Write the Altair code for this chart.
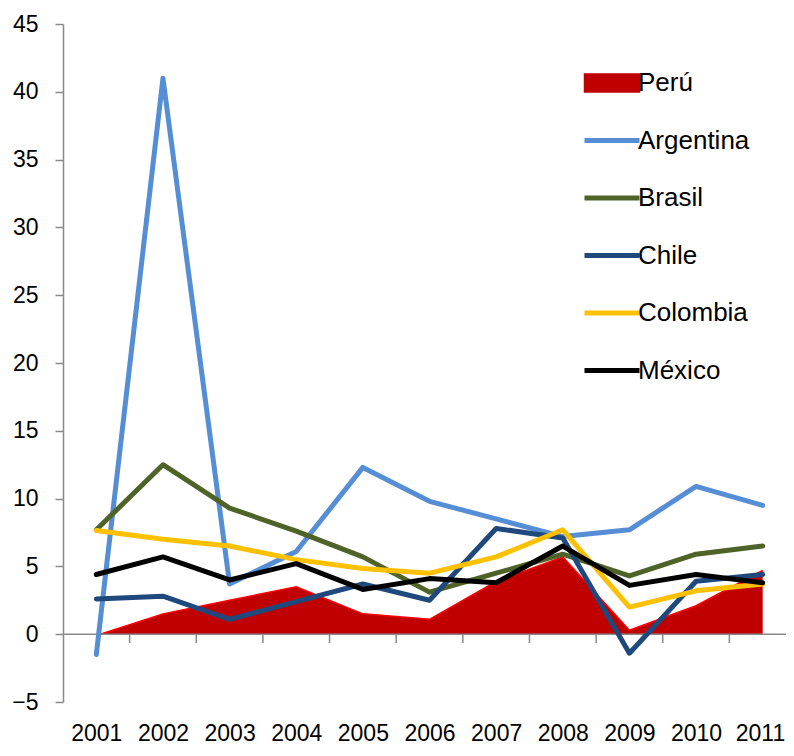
import altair as alt
import pandas as pd

years = [2001, 2002, 2003, 2004, 2005, 2006, 2007, 2008, 2009, 2010, 2011]
peru = [-0.1, 1.5, 2.5, 3.5, 1.5, 1.1, 3.9, 5.7, 0.3, 2.1, 4.7]
argentina = [-1.5, 41.0, 3.7, 6.1, 12.3, 9.8, 8.5, 7.2, 7.7, 10.9, 9.5]
brasil = [7.7, 12.5, 9.3, 7.6, 5.7, 3.1, 4.5, 5.9, 4.3, 5.9, 6.5]
chile = [2.6, 2.8, 1.1, 2.4, 3.7, 2.5, 7.8, 7.1, -1.4, 3.9, 4.4]
colombia = [7.65, 7.0, 6.5, 5.5, 4.85, 4.5, 5.7, 7.7, 2.0, 3.2, 3.7]
mexico = [4.4, 5.7, 4.0, 5.2, 3.3, 4.1, 3.8, 6.5, 3.6, 4.4, 3.8]

countries = ["Perú", "Argentina", "Brasil", "Chile", "Colombia", "México"]
colors = ["#C00000", "#558ED5", "#4F6228", "#1F497D", "#FFC000", "#000000"]
series = [peru, argentina, brasil, chile, colombia, mexico]
y_ticks = [-5, 0, 5, 10, 15, 20, 25, 30, 35, 40, 45]

rows = []
for name, vals in zip(countries, series):
    for yr, v in zip(years, vals):
        rows.append({"year": yr, "pais": name, "valor": v})
df = pd.DataFrame(rows)

# category boundaries for x tick marks
bounds = pd.DataFrame({"b": [y + 0.5 for y in years[:-1]]})

FONT = "Liberation Sans"
AXIS_GRAY = "#898989"

# the plot area runs past the last category (cut off at the page edge in the original)
xscale = alt.Scale(domain=[years[0] - 0.5, years[-1] + 0.35], nice=False, zero=False)
yscale = alt.Scale(domain=[y_ticks[0], y_ticks[-1]], nice=False)

color_scale = alt.Scale(domain=countries, range=colors)

legend = alt.Legend(
    title=None,
    orient="none",
    legendX=536,
    legendY=46,
    padding=0,
    symbolType=alt.ExprRef(expr="datum.value === 'Perú' ? 'M-1,-0.33H1V0.33H-1Z' : 'stroke'"),
    symbolFillColor=alt.ExprRef(expr="datum.value === 'Perú' ? '#C00000' : 'transparent'"),
    symbolStrokeColor=alt.ExprRef(expr="datum.value === 'Perú' ? '#FF0000' : scale('color', datum.value)"),
    symbolStrokeWidth=alt.ExprRef(expr="datum.value === 'Perú' ? 1.5 : 5"),
    symbolOpacity=1,
    symbolSize=3025,
    rowPadding=31.5,
    labelOffset=13,
    labelFont=FONT,
    labelFontSize=26,
    labelColor="#000000",
    labelLimit=300,
)

x_axis = alt.Axis(
    values=years,
    format="d",
    title=None,
    domain=False,
    ticks=False,
    tickSize=0,
    grid=False,
    labelFont=FONT,
    labelFontSize=23,
    labelColor="#000000",
    labelPadding=20,
    labelFlush=26,
    labelFlushOffset=22,
)
y_axis = alt.Axis(
    values=y_ticks,
    title=None,
    grid=False,
    domainColor=AXIS_GRAY,
    domainWidth=1.5,
    tickColor=AXIS_GRAY,
    tickWidth=1.5,
    tickSize=8,
    labelFont=FONT,
    labelFontSize=23,
    labelColor="#000000",
    labelPadding=17,
)

base = alt.Chart(df)

area = base.transform_filter(alt.datum.pais == "Perú").mark_area(opacity=1).encode(
    x=alt.X("year:Q", scale=xscale, axis=x_axis),
    y=alt.Y("valor:Q", scale=yscale, axis=y_axis),
    color=alt.Color("pais:N", scale=color_scale, legend=legend, sort=countries),
)

area_edge = base.transform_filter(alt.datum.pais == "Perú").mark_line(
    color="#FF0000", strokeWidth=1.5
).encode(
    x=alt.X("year:Q", scale=xscale),
    y=alt.Y("valor:Q", scale=yscale),
)

zero = alt.Chart(pd.DataFrame({"z": [0]})).mark_rule(color=AXIS_GRAY, strokeWidth=1.5).encode(
    y=alt.Y("z:Q", scale=yscale)
)

ticks = alt.Chart(bounds).mark_rule(color=AXIS_GRAY, strokeWidth=1.5).encode(
    x=alt.X("b:Q", scale=xscale),
    y=alt.datum(0),
    y2=alt.datum(-0.65),
)

lines = base.transform_filter(alt.datum.pais != "Perú").mark_line(
    strokeWidth=5, strokeCap="round", strokeJoin="round"
).encode(
    x=alt.X("year:Q", scale=xscale),
    y=alt.Y("valor:Q", scale=yscale),
    color=alt.Color("pais:N", scale=color_scale, legend=legend, sort=countries),
)

chart = alt.layer(area, area_edge, zero, ticks, lines).properties(
    width=723,
    height=678,
    autosize=alt.AutoSizeParams(type="none"),
    padding={"left": 55, "top": 16, "right": 0, "bottom": 42},
).configure_view(stroke=None)

chart.save("out.html", embed_options={"renderer": "svg", "actions": False})
